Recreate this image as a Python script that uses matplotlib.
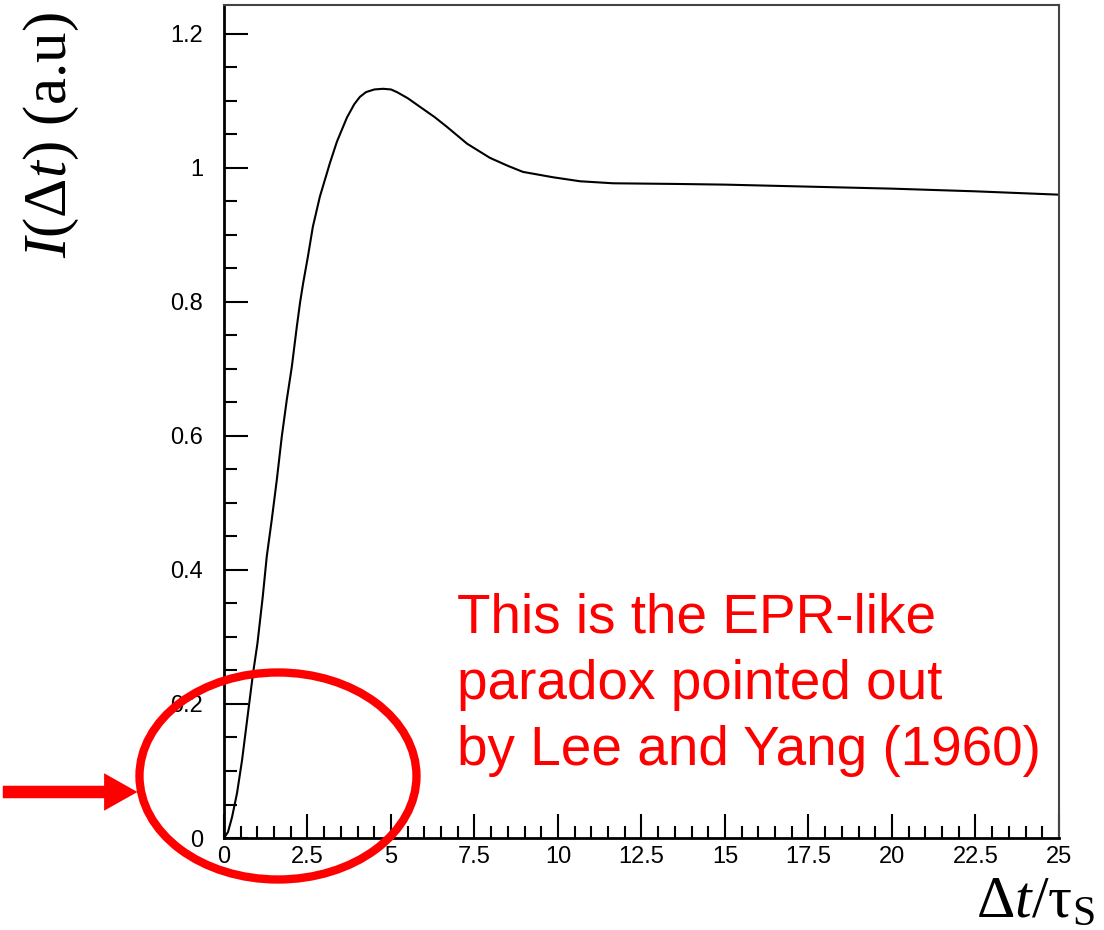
import matplotlib.pyplot as plt
from matplotlib.patches import Ellipse, FancyArrowPatch
from matplotlib.ticker import MultipleLocator, FormatStrFormatter


# Curve values (dt in units of tau_S, intensity in a.u.)
dt = [0, 0.12, 0.24, 0.39, 0.54, 0.72, 0.87, 1.0, 1.16, 1.28, 1.43, 1.58, 1.73,
      1.88, 2.03, 2.18, 2.28, 2.37, 2.51, 2.66, 2.87, 3.17, 3.38, 3.68, 3.9,
      4.07, 4.25, 4.5, 4.76, 5.0, 5.18, 5.5, 5.87, 6.3, 6.68, 7.28, 7.96, 8.5,
      8.95, 9.85, 10.66, 11.65, 13.56, 15, 17.5, 20, 22.5, 25]
intensity = [0, 0.009, 0.031, 0.067, 0.116, 0.187, 0.246, 0.29, 0.36, 0.42,
             0.475, 0.534, 0.599, 0.654, 0.703, 0.763, 0.80, 0.828, 0.867, 0.912,
             0.957, 1.007, 1.039, 1.075, 1.095, 1.106, 1.113, 1.117, 1.118, 1.117,
             1.113, 1.104, 1.091, 1.076, 1.061, 1.036, 1.015, 1.003, 0.994, 0.986,
             0.980, 0.977, 0.976, 0.975, 0.972, 0.969, 0.965, 0.960]

note_lines = ['This is the EPR-like', 'paradox pointed out', 'by Lee and Yang (1960)']


# Serif math text for the axis titles
plt.rcParams['mathtext.fontset'] = 'custom'
plt.rcParams['mathtext.rm'] = 'Liberation Serif'
plt.rcParams['mathtext.it'] = 'Liberation Serif:italic'

fig = plt.figure(figsize=(11.04, 9.30), dpi=100)
ax = fig.add_axes([0.2029, 0.0989, 0.7563, 0.8957])

ax.plot(dt, intensity, color='black', lw=1.5)

ax.set_xlim(0, 25)
ax.set_ylim(0, 1.243)

# ROOT-like ticks: inward, left and bottom only
ax.xaxis.set_major_locator(MultipleLocator(2.5))
ax.xaxis.set_minor_locator(MultipleLocator(0.5))
ax.yaxis.set_major_locator(MultipleLocator(0.2))
ax.yaxis.set_minor_locator(MultipleLocator(0.05))
ax.xaxis.set_major_formatter(FormatStrFormatter('%g'))
ax.yaxis.set_major_formatter(FormatStrFormatter('%g'))
ax.tick_params(which='both', direction='in', top=False, right=False,
               labelsize=17, width=1.5)
ax.tick_params(which='major', length=17)
ax.tick_params(axis='y', which='major', pad=15)
ax.tick_params(axis='x', which='major', pad=6)
ax.tick_params(which='minor', length=9)
for lab in ax.get_xticklabels() + ax.get_yticklabels():
    lab.set_family('Liberation Sans')
for s in ['left', 'bottom']:
    ax.spines[s].set_linewidth(2)
for s in ['top', 'right']:
    ax.spines[s].set_linewidth(1.5)
    ax.spines[s].set_color('#444444')

# Axis titles
fig.text(0.047, 0.855, r'$I(\Delta t)$ (a.u)', rotation=90, ha='center', va='center',
         fontsize=44, family='Liberation Serif')
fig.text(0.992, 0.0, r'$\Delta t/\mathrm{\tau}_\mathrm{S}$', ha='right', va='bottom',
         fontsize=43, family='Liberation Serif')

# Red annotation
fig.text(0.414, 0.177, '\n'.join(note_lines), color='red', fontsize=39.5,
         family='Liberation Sans', ha='left', va='baseline', linespacing=1.36)
fig.patches.append(Ellipse((0.2518, 0.1656), 0.2509, 0.2226, transform=fig.transFigure,
                           fill=False, edgecolor='red', lw=6))
fig.patches.append(FancyArrowPatch(
    (0.0, 0.1484), (0.127, 0.1484), transform=fig.transFigure,
    arrowstyle='simple,head_length=2.4,head_width=2.7,tail_width=0.9',
    mutation_scale=10, color='red', lw=0))

fig.savefig('out.png', dpi=100)
